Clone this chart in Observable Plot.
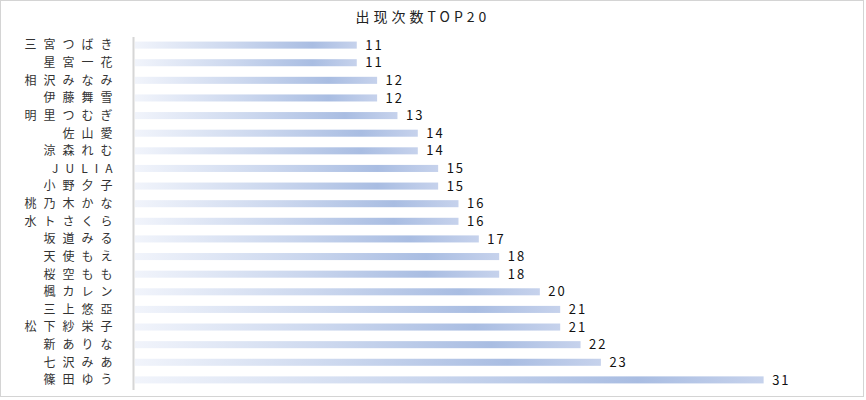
<!DOCTYPE html>
<html>
<head>
<meta charset="utf-8">
<script src="https://cdn.jsdelivr.net/npm/d3@7"></script>
<script src="https://cdn.jsdelivr.net/npm/@observablehq/plot@0.6"></script>
<style>
  body { margin: 0; background: #fff; }
  #wrap { position: relative; width: 866px; height: 400px; overflow: hidden; font-family: "Noto Sans CJK JP", "Noto Sans", sans-serif; }
  #frame { position: absolute; left: 0; top: 0; width: 864px; height: 397px; border: 1px solid #d4d4d4; box-sizing: border-box; }
  #title { position: absolute; left: 0; top: 6px; width: 866px; padding-right: 20px; box-sizing: border-box; text-align: center; font-size: 14px; letter-spacing: 4px; color: #222; }
  #chart { position: absolute; left: 0; top: 30px; }
</style>
</head>
<body>
<div id="wrap">
  <div id="frame"></div>
  <div id="title">出现次数TOP20</div>
  <div id="chart"></div>
</div>
<script>
const names = ["三宮つばき","星宮一花","相沢みなみ","伊藤舞雪","明里つむぎ","佐山愛","涼森れむ","JULIA","小野夕子","桃乃木かな","水トさくら","坂道みる","天使もえ","桜空もも","楓カレン","三上悠亞","松下紗栄子","新ありな","七沢みあ","篠田ゆう"];
const counts = [11,11,12,12,13,14,14,15,15,16,16,17,18,18,20,21,21,22,23,31];

const data = names.map((name, i) => ({name, count: counts[i]}));

const chart = Plot.plot({
  width: 866,
  height: 370,
  marginLeft: 133,
  marginRight: 21,
  marginTop: 1,
  marginBottom: 6,
  style: {fontFamily: '"Noto Sans CJK JP", "Noto Sans", sans-serif', background: "transparent"},
  x: {domain: [0, 35], axis: null},
  y: {domain: names, padding: 0.6, round: false, label: null},
  marks: [
    Plot.axisY({tickSize: 0, tickPadding: 14, fontSize: 12, label: null, fill: "#333"}),
    Plot.barX(data, {x: "count", y: "name", fill: "url(#barGrad)", insetLeft: 2}),
    Plot.ruleX([0], {stroke: "#d6d6d6", strokeWidth: 2, insetTop: 6, insetBottom: 4}),
    Plot.text(data, {x: "count", y: "name", text: d => String(d.count), textAnchor: "start", dx: 8, fontSize: 13, fill: "#111"})
  ]
});

d3.select(chart).insert("defs", ":first-child").html(`
  <linearGradient id="barGrad" x1="0" y1="0" x2="1" y2="0">
    <stop offset="0" stop-color="#f1f4fb"/>
    <stop offset="0.45" stop-color="#cbd7ee"/>
    <stop offset="0.8" stop-color="#a9bde2"/>
    <stop offset="1" stop-color="#c6d2ec"/>
  </linearGradient>`);
d3.select(chart).selectAll("g[aria-label='y-axis tick label'] text").style("letter-spacing", "7px");
d3.select(chart).selectAll("g[aria-label='text'] text").style("letter-spacing", "2px");
document.getElementById("chart").appendChild(chart);
</script>
</body>
</html>
